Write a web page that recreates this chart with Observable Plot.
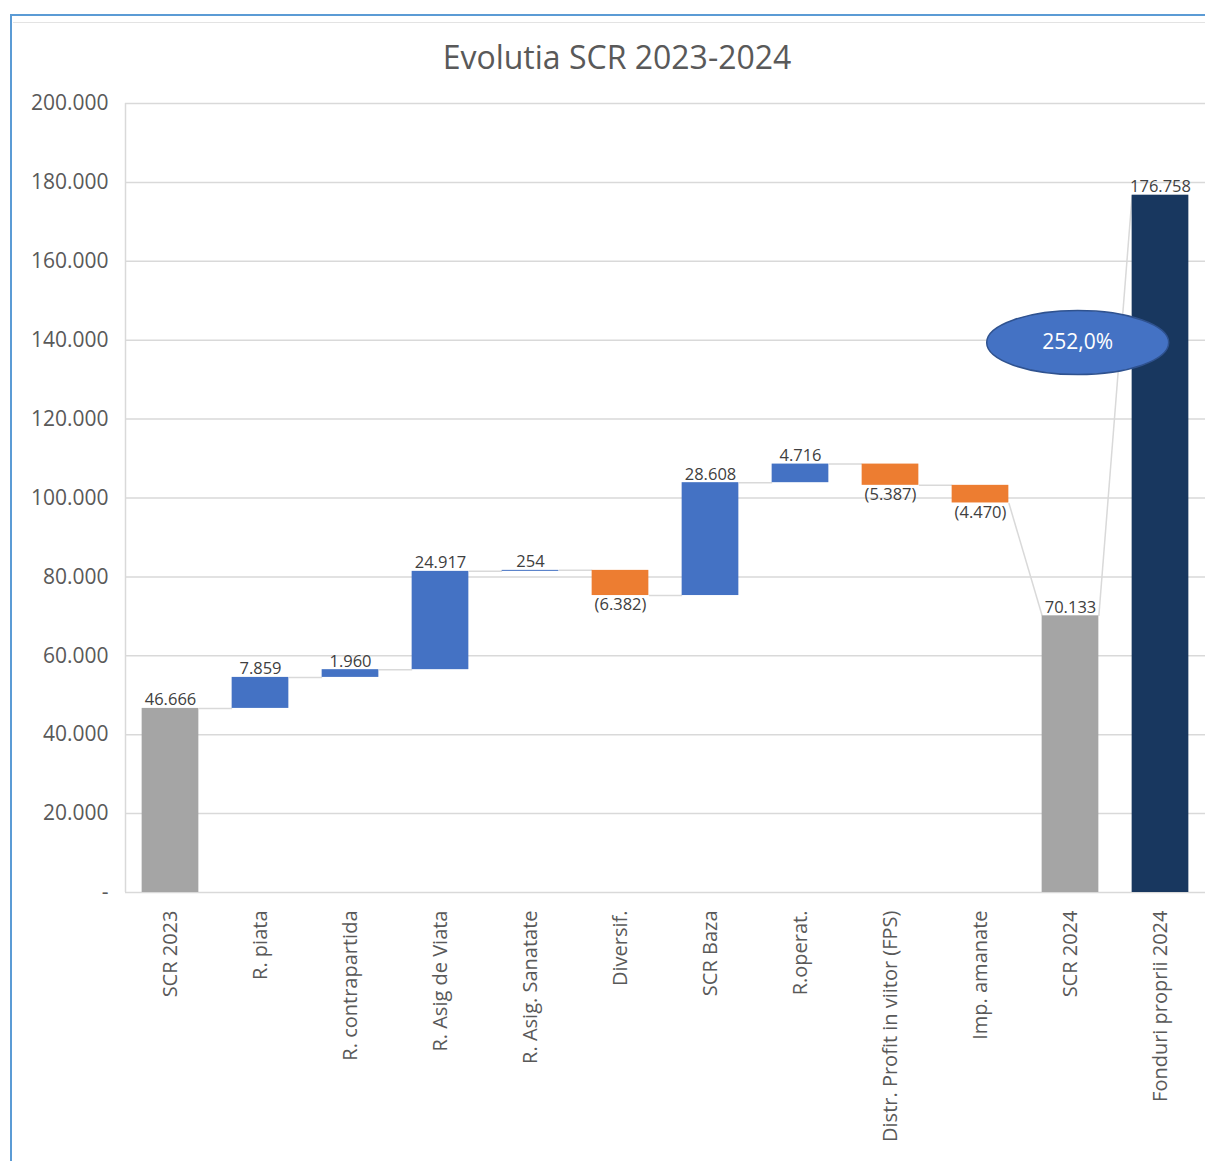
<!DOCTYPE html>
<html><head><meta charset="utf-8">
<script src="https://cdn.jsdelivr.net/npm/d3@7"></script>
<script src="https://cdn.jsdelivr.net/npm/@observablehq/plot@0.6"></script>
<style>
body{margin:0;background:#fff;}
#wrap{position:relative;width:1205px;height:1161px;overflow:hidden;font-family:"Open Sans",sans-serif;}
#frame{position:absolute;left:10px;top:14px;width:1300px;height:1300px;border-left:2px solid #5B9BD5;border-top:2px solid #5B9BD5;}
#inner{position:absolute;left:13px;top:22px;right:0;height:1px;background:#e3e3e3}
#title{position:absolute;left:0;width:1234px;top:36px;text-align:center;font-size:32px;color:#595959;line-height:42px;}
#chart{position:absolute;left:0;top:0;}
</style></head>
<body>
<div id="wrap">
  <div id="frame"></div>
  <div id="inner"></div>
  <div id="title">Evolutia SCR 2023-2024</div>
  <div id="chart"></div>
</div>
<script>
const categories = ["SCR 2023","R. piata","R. contrapartida","R. Asig de Viata","R. Asig. Sanatate","Diversif.","SCR Baza","R.operat.","Distr. Profit in viitor (FPS)","Imp. amanate","SCR 2024","Fonduri proprii 2024"];
const values = [46666, 7859, 1960, 24917, 254, -6382, 28608, 4716, -5387, -4470, 70133, 176758];
const kinds = ["total","step","step","step","step","step","step","step","step","step","total","funds"];
const yTicks = [0,20000,40000,60000,80000,100000,120000,140000,160000,180000,200000];

const colors = {total:"#A5A5A5", up:"#4472C4", down:"#ED7D31", funds:"#18375F"};
const loc = d3.formatLocale({thousands:".", decimal:",", grouping:[3], currency:["",""]});
const fmtInt = loc.format(",d");
const fmtVal = v => v < 0 ? "(" + fmtInt(-v) + ")" : fmtInt(v);
const fmtTick = v => v === 0 ? "-" : fmtInt(v);

const hw = 0.315;
let running = 0;
const rows = values.map((v, i) => {
  let y1, y2;
  if (kinds[i] === "step") { y1 = running; y2 = running + v; running = y2; }
  else { y1 = 0; y2 = v; running = v; }
  const color = kinds[i] === "step" ? (v >= 0 ? colors.up : colors.down) : colors[kinds[i]];
  return {i, v, y1, y2, color, top: Math.max(y1, y2), bottom: Math.min(y1, y2), neg: v < 0};
});
const connectors = rows.slice(0, -1).map((r, k) => {
  const n = rows[k + 1];
  return {x1: r.i + hw, x2: n.i - hw, y1: r.y2, y2: kinds[k + 1] === "step" ? n.y1 : n.y2};
});
const scrIdx = categories.indexOf("SCR 2024");
const fpIdx = categories.indexOf("Fonduri proprii 2024");
const ratio = [{x: 10.08, y: 139400, label: loc.format(".1f")(values[fpIdx] / values[scrIdx] * 100) + "%"}];

const ellipse = {draw(ctx) {
  const rx = 91, ry = 32, k = 0.5523;
  ctx.moveTo(rx, 0);
  ctx.bezierCurveTo(rx, ry * k, rx * k, ry, 0, ry);
  ctx.bezierCurveTo(-rx * k, ry, -rx, ry * k, -rx, 0);
  ctx.bezierCurveTo(-rx, -ry * k, -rx * k, -ry, 0, -ry);
  ctx.bezierCurveTo(rx * k, -ry, rx, -ry * k, rx, 0);
  ctx.closePath();
}};

const chart = Plot.plot({
  width: 1205, height: 1161,
  marginLeft: 125, marginRight: 0, marginTop: 103, marginBottom: 269,
  style: {fontFamily: "'Open Sans', sans-serif", background: "transparent", overflow: "visible"},
  x: {domain: [-0.5, 11.5], axis: null},
  y: {domain: [0, 200000], axis: null},
  marks: [
    Plot.gridY(yTicks, {stroke: "#d9d9d9", strokeOpacity: 1, strokeWidth: 1.5}),
    Plot.ruleX([-0.5], {stroke: "#d9d9d9", strokeWidth: 1.5}),
    Plot.axisY(yTicks, {tickSize: 0, tickPadding: 17, fontSize: 21, fill: "#595959", tickFormat: fmtTick}),
    Plot.axisX(d3.range(categories.length), {tickSize: 0, tickRotate: -90, tickPadding: 18, fontSize: 20, fill: "#595959", tickFormat: i => categories[i]}),
    Plot.link(connectors, {x1: "x1", x2: "x2", y1: "y1", y2: "y2", stroke: "#d9d9d9", strokeWidth: 1.5}),
    Plot.rectY(rows, {x1: d => d.i - hw, x2: d => d.i + hw, y1: "y1", y2: "y2", fill: "color"}),
    Plot.text(rows.filter(d => !d.neg), {x: "i", y: "top", text: d => fmtVal(d.v), lineAnchor: "bottom", dy: -3, fontSize: 16.5, fill: "#404040"}),
    Plot.text(rows.filter(d => d.neg), {x: "i", y: "bottom", text: d => fmtVal(d.v), lineAnchor: "top", dy: 3, fontSize: 16.5, fill: "#404040"}),
    Plot.dot(ratio, {x: "x", y: "y", symbol: ellipse, fill: "#4472C4", stroke: "#2F528F", strokeWidth: 1.5}),
    Plot.text(ratio, {x: "x", y: "y", text: "label", fill: "white", fontSize: 21})
  ]
});
document.getElementById("chart").appendChild(chart);
</script>
</body></html>
